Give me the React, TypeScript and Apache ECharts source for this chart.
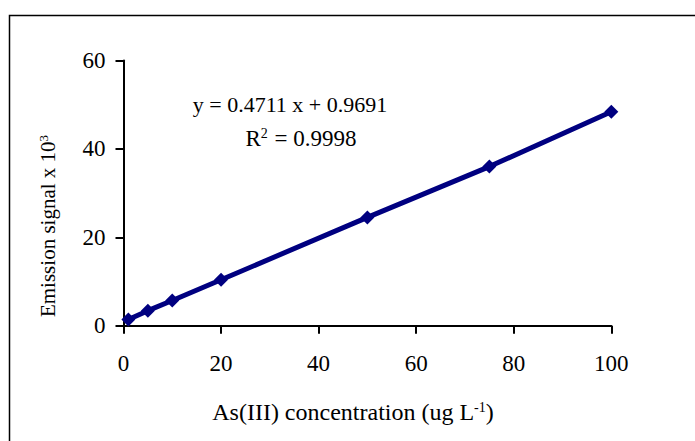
import React, { useEffect, useRef } from "react";
import * as echarts from "echarts";

const concentrations = [1, 5, 10, 20, 50, 75, 100];
const signals = [1.4, 3.4, 5.7, 10.4, 24.5, 36.0, 48.4];
const xTicks = [0, 20, 40, 60, 80, 100];
const yTicks = [0, 20, 40, 60];
const equationText = "y = 0.4711 x + 0.9691";
const r2Value = "0.9998";

const FONT = "'Liberation Serif', 'Times New Roman', serif";

export default function App() {
  const ref = useRef<HTMLDivElement>(null);
  useEffect(() => {
    if (!ref.current) return;
    const chart = echarts.init(ref.current, null, { renderer: "svg" });
    chart.setOption({
      animation: false,
      backgroundColor: "#ffffff",
      textStyle: { fontFamily: FONT },
      grid: { left: 123.5, right: 83.7, top: 60.5, bottom: 115.3 },
      xAxis: {
        type: "value",
        min: xTicks[0],
        max: xTicks[xTicks.length - 1],
        interval: 20,
        axisLine: { lineStyle: { color: "#000", width: 2 } },
        axisTick: { show: true, length: 8, lineStyle: { color: "#000", width: 2 } },
        axisLabel: { color: "#000", fontSize: 23, fontFamily: FONT, margin: 26 },
        splitLine: { show: false },
      },
      yAxis: {
        type: "value",
        min: yTicks[0],
        max: yTicks[yTicks.length - 1],
        interval: 20,
        axisLine: { show: true, lineStyle: { color: "#000", width: 2 } },
        axisTick: { show: true, length: 8, lineStyle: { color: "#000", width: 2 } },
        axisLabel: { color: "#000", fontSize: 23, fontFamily: FONT, margin: 18 },
        splitLine: { show: false },
      },
      series: [
        {
          type: "line",
          data: concentrations.map((c, i) => [c, signals[i]]),
          symbol: "diamond",
          symbolSize: 14,
          showSymbol: true,
          lineStyle: { color: "#000080", width: 5 },
          itemStyle: { color: "#000080" },
        },
      ],
      graphic: [
        {
          type: "rect",
          shape: { x: 9.5, y: 15.5, width: 720, height: 460 },
          style: { fill: "none", stroke: "#000", lineWidth: 1.5 },
          silent: true,
        },
        {
          type: "text",
          x: 290,
          y: 104,
          style: {
            text: equationText,
            font: `22px ${FONT}`,
            fill: "#000",
            align: "center",
            verticalAlign: "middle",
          },
        },
        {
          type: "text",
          x: 301,
          y: 138,
          style: {
            text: "{a|R}{s|2}{a| = " + r2Value + "}",
            align: "center",
            verticalAlign: "middle",
            rich: {
              a: { fontSize: 23, fontFamily: FONT, color: "#000" },
              s: { fontSize: 14, fontFamily: FONT, color: "#000", verticalAlign: "top", padding: [0, 1, 10, 0] },
            },
          },
        },
        {
          type: "text",
          x: 48,
          y: 226,
          rotation: Math.PI / 2,
          style: {
            text: "{a|Emission signal x 10}{s|3}",
            align: "center",
            verticalAlign: "middle",
            rich: {
              a: { fontSize: 21, fontFamily: FONT, color: "#000" },
              s: { fontSize: 13, fontFamily: FONT, color: "#000", verticalAlign: "top", padding: [0, 0, 9, 0] },
            },
          },
        },
        {
          type: "text",
          x: 353,
          y: 412,
          style: {
            text: "{a|As(III) concentration (ug L}{s|-1}{a|)}",
            align: "center",
            verticalAlign: "middle",
            rich: {
              a: { fontSize: 24, fontFamily: FONT, color: "#000" },
              s: { fontSize: 14, fontFamily: FONT, color: "#000", verticalAlign: "top", padding: [0, 0, 10, 0] },
            },
          },
        },
      ],
    });
    return () => chart.dispose();
  }, []);
  return (
    <div
      ref={ref}
      style={{ position: "fixed", left: 0, top: 0, width: 695, height: 441 }}
    />
  );
}
